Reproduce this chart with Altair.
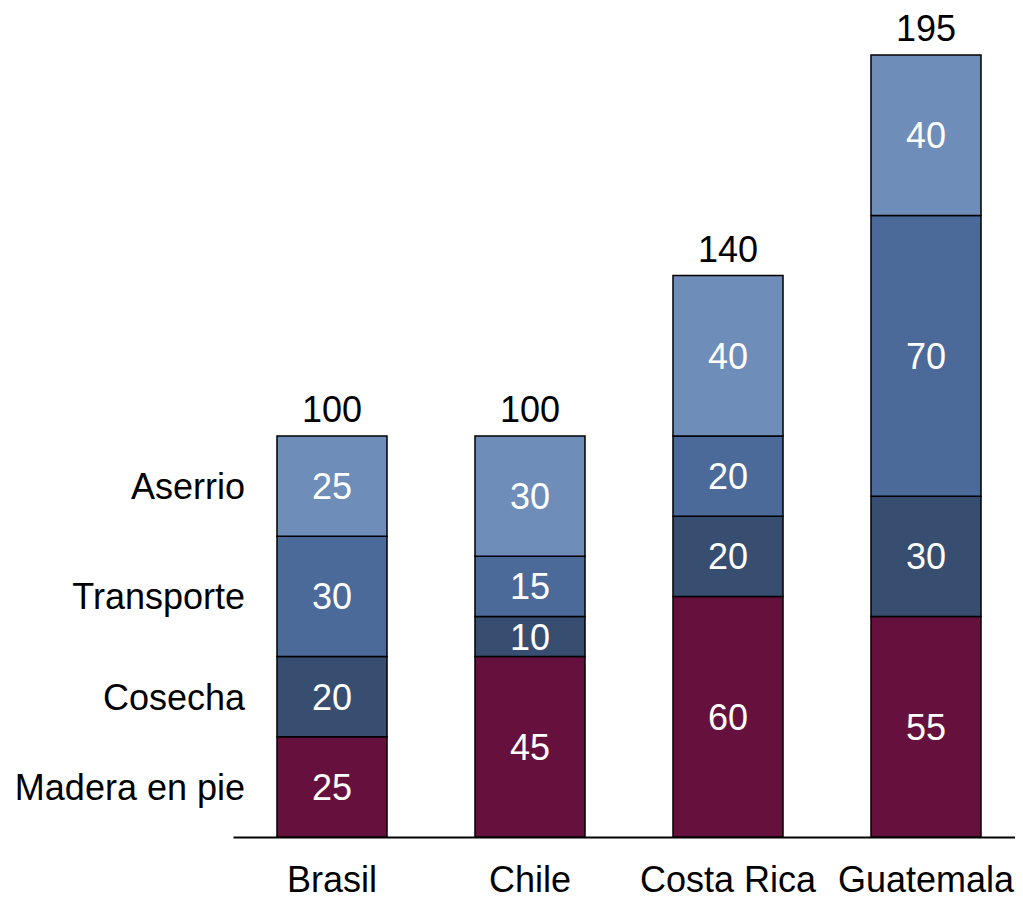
import altair as alt
import pandas as pd

countries = ["Brasil", "Chile", "Costa Rica", "Guatemala"]
components = ["Madera en pie", "Cosecha", "Transporte", "Aserrio"]
madera = [25, 45, 60, 55]
cosecha = [20, 10, 20, 30]
transporte = [30, 15, 20, 70]
aserrio = [25, 30, 40, 40]
colors = ["#66113D", "#374E70", "#4B6A9A", "#6F8DB9"]

series = [madera, cosecha, transporte, aserrio]
rows = []
for ci, c in enumerate(countries):
    base = 0
    for k, comp in enumerate(components):
        v = series[k][ci]
        rows.append(dict(country=c, component=comp, order=k, value=v,
                         start=base, end=base + v, mid=base + v / 2))
        base += v
df = pd.DataFrame(rows)
totals = df.groupby("country", sort=False)["value"].sum().reset_index()
totals.columns = ["country", "total"]

FONT = "Liberation Sans"
FS = 36

xenc = alt.X(
    "country:N", sort=countries,
    scale=alt.Scale(range=[0, 792], paddingInner=0.4444, paddingOuter=0.2222),
    axis=alt.Axis(title=None, labelAngle=0, labelFontSize=FS, labelFont=FONT,
                  labelColor="black", ticks=False, tickSize=0, labelPadding=26,
                  labelLimit=400, domainColor="black", domainWidth=2, grid=False),
)
yscale = alt.Scale(domain=[0, 200])

bars = alt.Chart(df).mark_bar(stroke="black", strokeWidth=1.5).encode(
    x=xenc,
    y=alt.Y("start:Q", scale=yscale, axis=None),
    y2="end:Q",
    color=alt.Color("component:N", scale=alt.Scale(domain=components, range=colors), legend=None),
)

inner = alt.Chart(df).mark_text(color="white", fontSize=FS, font=FONT, dy=13,
                                baseline="alphabetic").encode(
    x=alt.X("country:N", sort=countries),
    y=alt.Y("mid:Q", scale=yscale, axis=None),
    text="value:Q",
)

tot = alt.Chart(totals).mark_text(color="black", fontSize=FS, font=FONT, dy=-14,
                                  baseline="alphabetic").encode(
    x=alt.X("country:N", sort=countries),
    y=alt.Y("total:Q", scale=yscale, axis=None),
    text="total:Q",
)

legend_lbl = alt.Chart(df[df["country"] == countries[0]]).mark_text(
    color="black", fontSize=FS, font=FONT, dy=13, align="right", baseline="alphabetic"
).encode(
    x=alt.value(12),
    y=alt.Y("mid:Q", scale=yscale, axis=None),
    text="component:N",
)

chart = alt.layer(bars, inner, tot, legend_lbl).properties(
    width=782, height=802,
    autosize=alt.AutoSizeParams(type="none"),
    padding={"left": 225, "top": 27, "right": 0, "bottom": 64},
).configure_view(stroke=None)

chart.save("out.html", embed_options={"renderer": "svg", "actions": False})
